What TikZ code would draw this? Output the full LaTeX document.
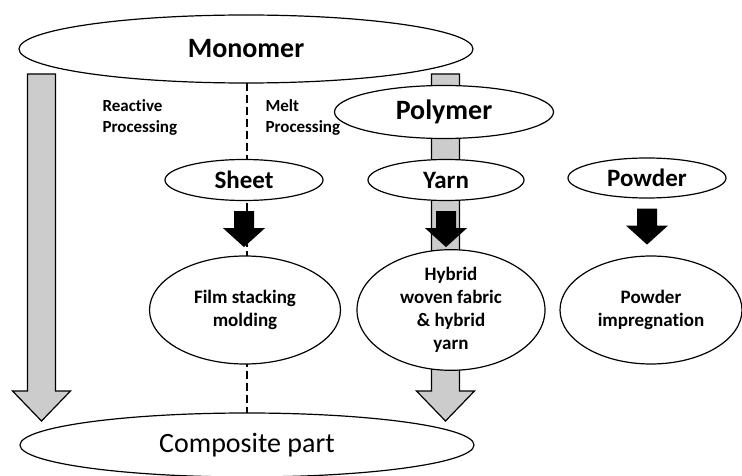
\documentclass[tikz,border=0pt]{standalone}
\usepackage{fontspec}
\setmainfont{Carlito}[Ligatures=NoCommon]
\usetikzlibrary{shapes.geometric}

\tikzset{
  oval/.style={ellipse,draw,fill=white,line width=1.2pt,inner sep=0pt,align=center},
  grayarrow/.style={draw,fill=gray!40,line width=1.2pt,line join=miter},
  bigfont/.style={font=\fontsize{28}{30}\selectfont},
  bigbold/.style={font=\fontsize{28}{30}\selectfont\bfseries},
  midfont/.style={font=\fontsize{25}{27}\selectfont\bfseries},
  smallfont/.style={font=\fontsize{19}{23}\selectfont\bfseries},
  labelfont/.style={font=\fontsize{17}{21}\selectfont\bfseries}
}

\begin{document}
\begin{tikzpicture}[x=1pt,y=-1pt]
\useasboundingbox (0,0) rectangle (742,476);

% wide grey arrows in the back
\foreach \cx in {41.5,445.5}
  \draw[grayarrow] (\cx-14,74) -- (\cx+14,74) -- (\cx+14,391) -- (\cx+29,391)
    -- (\cx,421) -- (\cx-29,391) -- (\cx-14,391) -- cycle;

\coordinate (top) at (247,83);
\coordinate (bot) at (247,413);
\draw[line width=2.4pt,dash pattern=on 8pt off 4pt] (top) -- (bot);

\node[oval,bigbold,minimum width=454pt,minimum height=68pt] (monomer) at (246,49) {Monomer};
\node[oval,bigbold,minimum width=219pt,minimum height=53pt] (polymer) at (444,112) {Polymer};

\node[oval,midfont,minimum width=158pt,minimum height=41pt] (sheet) at (244,180) {Sheet};
\node[oval,midfont,minimum width=156pt,minimum height=41pt] (yarn) at (446,180) {Yarn};
\node[oval,midfont,minimum width=158pt,minimum height=40pt] (powder) at (647,178) {Powder};

\node[oval,smallfont,minimum width=191pt,minimum height=108pt] (film) at (245,310) {Film stacking\\molding};
\node[oval,smallfont,minimum width=188pt,minimum height=108pt] (hybrid) at (451,310) {Hybrid\\woven fabric\\\& hybrid\\yarn};
\node[oval,smallfont,minimum width=182pt,minimum height=108pt] (impreg) at (651,310) {Powder\\impregnation};

\node[oval,bigfont,minimum width=454pt,minimum height=64pt] (composite) at (247,445) {Composite part};

\node[labelfont,align=left,anchor=west] (reactive) at (99,117) {Reactive\\Processing};
\node[labelfont,align=left,anchor=west] (melt) at (262,117) {Melt\\Processing};

% black arrows
\foreach \n in {sheet,yarn,powder}
  \fill ([xshift=-10pt,yshift=-10pt]\n.south) -- ++(20,0) -- ++(0,17) -- ++(11,0)
    -- ++(-21,19) -- ++(-21,-19) -- ++(11,0) -- cycle;
\end{tikzpicture}
\end{document}
